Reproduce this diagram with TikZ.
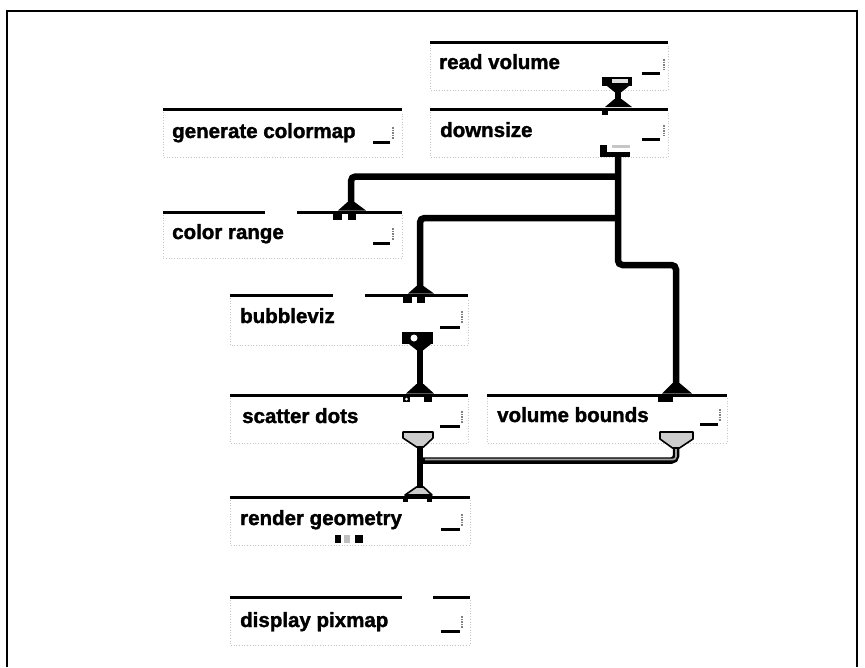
\documentclass[tikz,border=0pt]{standalone}
\usepackage{fontspec}
\setmainfont{Liberation Sans}
\newfontfamily\modfont{Liberation Sans Bold}[FakeBold=1.6]
\begin{document}
\begin{tikzpicture}[x=1pt,y=-1pt,
  title/.style={anchor=base west, inner sep=0pt, font=\modfont\fontsize{20.5}{24}\selectfont},
  bar/.style={line width=3pt},
  conn/.style={line width=6.5pt, rounded corners=4.5pt},
  minbtn/.style={line width=3pt},
  tickmark/.style={gray, line width=1.2pt, dash pattern=on 1.5pt off 1pt},
  faint/.style={gray!45, dotted, line width=0.7pt},
  geo/.style={fill=gray!40, draw=black, line width=1.6pt, line join=round},
  geocore/.style={gray!70, line width=1.6pt},
]
\useasboundingbox (0,0) rectangle (865,667);
% frame
\draw[line width=2pt] (7,667) -- (7,11) -- (857,11) -- (857,667);

% ---------- faint module outlines ----------
\draw[faint] (430,45) -- (430,90) -- (668,90) -- (668,45);
\draw[faint] (163,112) -- (163,157) -- (402,157) -- (402,112);
\draw[faint] (430,112) -- (430,157) -- (668,157) -- (668,112);
\draw[faint] (163,215) -- (163,258) -- (402,258) -- (402,215);
\draw[faint] (230,298) -- (230,345) -- (468,345) -- (468,298);
\draw[faint] (230,398) -- (230,443) -- (468,443) -- (468,398);
\draw[faint] (487,398) -- (487,443) -- (727,443) -- (727,398);
\draw[faint] (230,500) -- (230,545) -- (470,545) -- (470,500);
\draw[faint] (230,600) -- (230,645) -- (470,645) -- (470,600);

% ---------- modules ----------
% read volume
\draw[bar] (430,42) -- (668,42);
\node[title] (rv) at (439,69) {read volume};
\draw[minbtn] (642,73) -- (660,73);
\draw[tickmark] (664,59) -- (664,70);

% generate colormap
\draw[bar] (163,109) -- (402,109);
\node[title] (gc) at (172,138) {generate colormap};
\draw[minbtn] (373,142) -- (390,142);
\draw[tickmark] (393,127) -- (393,139);

% downsize
\draw[bar] (430,109) -- (668,109);
\node[title] (ds) at (440,137) {downsize};
\draw[minbtn] (642,139) -- (660,139);
\draw[tickmark] (664,125) -- (664,136);

% color range
\draw[bar] (163,212) -- (265,212);
\draw[bar] (297,212) -- (402,212);
\node[title] (cr) at (172,239) {color range};
\draw[minbtn] (373,243) -- (390,243);
\draw[tickmark] (393,228) -- (393,240);

% bubbleviz
\draw[bar] (230,295) -- (333,295);
\draw[bar] (365,295) -- (468,295);
\node[title] (bv) at (240,323) {bubbleviz};
\draw[minbtn] (440,327) -- (460,327);
\draw[tickmark] (462,311) -- (462,323);

% scatter dots
\draw[bar] (230,395) -- (468,395);
\node[title] (sd) at (242,423) {scatter dots};
\draw[minbtn] (440,426) -- (460,426);
\draw[tickmark] (462,411) -- (462,423);

% volume bounds
\draw[bar] (487,395) -- (727,395);
\node[title] (vb) at (497,422) {volume bounds};
\draw[minbtn] (700,424) -- (718,424);
\draw[tickmark] (720,409) -- (720,421);

% render geometry
\draw[bar] (230,497) -- (470,497);
\node[title] (rg) at (240,525) {render geometry};
\draw[minbtn] (441,529) -- (460,529);
\draw[tickmark] (462,514) -- (462,526);

% display pixmap
\draw[bar] (230,597) -- (402,597);
\draw[bar] (433,597) -- (470,597);
\node[title] (dp) at (240,627) {display pixmap};
\draw[minbtn] (441,631) -- (460,631);
\draw[tickmark] (462,616) -- (462,628);

% ---------- port coordinates ----------
\coordinate (rv-out) at (618,91);
\coordinate (ds-in) at (618,101);
\coordinate (ds-out) at (618,155);
\coordinate (j1) at (618,176.5);
\coordinate (j2) at (618,218);
\coordinate (j3) at (618,265);
\coordinate (cr-in) at (351,205);
\coordinate (bv-in) at (420,289);
\coordinate (vb-in) at (676,387);
\coordinate (bv-out) at (420,348);
\coordinate (sd-in) at (420,387);
\coordinate (sd-out) at (420,446);
\coordinate (rg-in) at (420,489);
\coordinate (vb-out) at (676,446);
\coordinate (sdrg) at (423,460.5);

% ---------- connectors ----------
\draw[conn] (rv-out) -- (ds-in);
\draw[conn] (ds-out) -- (j3) -| (vb-in);
\draw[conn] (j1) -| (cr-in);
\draw[conn] (j2) -| (bv-in);
\draw[conn] (bv-out) -- (sd-in);
\draw[conn] (sd-out) -- (rg-in);
\draw[conn] (vb-out) |- (sdrg);
\draw[geocore, rounded corners=3pt] (676,447) |- (425,459.5);

% ---------- ports ----------
% read volume output
\fill (602,77) rectangle (632,86);
\fill[gray!25] (612,79) rectangle (628,83);
\fill (607,86) -- (629,86) -- (621.5,92) -- (614.5,92) -- cycle;
% downsize input
\fill (614.5,99) -- (621.5,99) -- (632,107) -- (605,107) -- cycle;
\fill (602,110) rectangle (608,115);
% downsize output
\fill (600,145) rectangle (607,154);
\fill (600,152) rectangle (630,157);
\fill[gray!45] (612,145) rectangle (630,148);
% color range input
\fill (347.5,202) -- (354.5,202) -- (366,210.5) -- (338,210.5) -- cycle;
\fill (333,213) rectangle (342,220);
\fill (348,213) rectangle (356,220);
% bubbleviz input
\fill (416.5,286) -- (423.5,286) -- (434,293.5) -- (408,293.5) -- cycle;
\fill (403,296) rectangle (412,303);
\fill (417,296) rectangle (425,303);
% bubbleviz output
\fill (402,332) rectangle (433,344);
\fill[white] (414,338) circle (3.5);
\fill (409,344) -- (431,344) -- (423.5,350) -- (416.5,350) -- cycle;
% scatter dots input
\fill (416.5,384) -- (423.5,384) -- (434,393.5) -- (406,393.5) -- cycle;
\fill (403,396) rectangle (410,402);
\fill[white] (406.5,399) circle (1.5);
\fill (424,396) rectangle (432,402);
% scatter dots output (geometry)
\filldraw[geo] (403,432) -- (433,432) -- (433,438) -- (423.5,447) -- (416.5,447) -- (403,438) -- cycle;
% render geometry input (geometry)
\filldraw[geo] (416.5,487) -- (423.5,487) -- (432,495) -- (405,495) -- cycle;
\fill (403,498) rectangle (408,502);
\fill (427,498) rectangle (432,502);
% volume bounds input
\fill (672.5,383) -- (679.5,383) -- (692,393.5) -- (662,393.5) -- cycle;
\fill (658,396) rectangle (673,402);
% volume bounds output (geometry)
\filldraw[geo] (660,432) -- (693,432) -- (693,439) -- (679.5,448) -- (672.5,448) -- (660,439) -- cycle;
% render geometry outputs
\fill (335,535) rectangle (341,543);
\fill[gray!50] (344,535) rectangle (350,543);
\fill (355,535) rectangle (363,543);
\end{tikzpicture}
\end{document}
